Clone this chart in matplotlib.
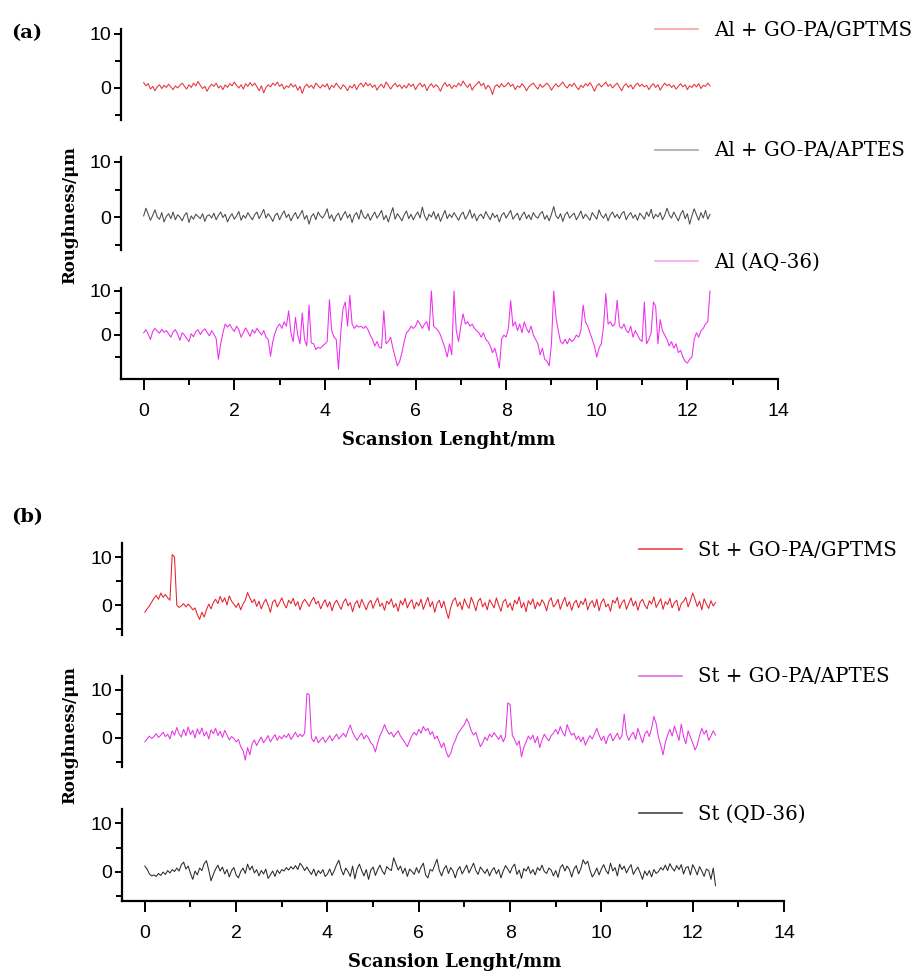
import matplotlib
matplotlib.use('Agg')
import matplotlib.pyplot as plt
import numpy as np
from matplotlib.lines import Line2D

# ---- data: roughness profiles (um), 0.05 mm step, 0 .. 12.5 mm ----
al_gptms = [1.0, 0.4, 0.8, -0.2, 0.3, -0.5, 0.2, 0.6, -0.1, 0.5,
            0.1, 0.7, 0.2, -0.3, 0.4, 0.0, 0.5, 0.9, 0.3, -0.2,
            0.6, 0.1, 0.9, 0.4, 1.2, 0.5, -0.1, 0.3, -0.6, 0.2,
            0.7, 0.3, 0.9, 0.0, 0.4, -0.3, 0.6, 0.1, 0.8, 0.4,
            1.1, 0.5, 0.0, 0.6, -0.2, 0.8, 0.3, 1.0, 0.4, 0.9,
            0.2, -0.5, 0.4, -0.9, 0.1, 0.6, 0.2, 0.9, 0.5, 1.1,
            0.3, 0.7, -0.2, 0.4, 0.1, 0.8, 0.2, 0.6, -0.4, 0.3,
            -1.0, 0.2, 0.7, 0.1, 0.5, -0.1, 0.9, 0.4, 0.0, 0.6,
            0.2, 0.8, -0.3, 0.5, 0.1, 0.9, 0.3, -0.2, 0.6, 0.2,
            -0.5, 0.4, 0.0, 0.7, -0.3, 0.5, 0.9, 0.2, 1.0, 0.4,
            0.8, 0.1, 0.6, -0.4, 0.3, 0.7, 0.0, 1.1, 0.5, -0.2,
            0.4, 0.9, 0.2, 0.6, -0.1, 0.5, 0.0, 0.8, 0.3, 0.7,
            -0.3, 0.5, 0.9, 0.2, 0.7, -0.5, 0.3, 0.8, 0.1, 0.6,
            0.2, -0.6, 0.4, 1.0, 0.3, 0.7, -0.1, 0.5, 0.2, 0.9,
            0.4, 1.3, 0.6, 0.1, 0.8, -0.4, 0.3, 0.7, 1.2, 0.4,
            0.9, -0.2, 0.5, 0.0, -1.2, 0.3, 0.6, 0.1, 0.8, 0.2,
            0.5, 1.0, 0.3, 0.7, -0.3, 0.4, 0.1, 0.8, 0.3, -0.5,
            0.2, 0.6, 0.9, 0.3, -0.2, 0.7, 0.1, 0.5, 0.9, 0.4,
            -0.4, 0.3, 0.8, 0.2, 0.6, 1.1, 0.4, 0.0, 0.7, 0.3,
            0.9, 0.2, -0.3, 0.5, 0.1, 0.8, 0.4, 1.0, 0.3, -0.6,
            0.4, 0.8, 0.2, 0.6, 1.1, 0.3, 0.7, 0.0, 0.5, 0.9,
            0.2, -0.5, 0.4, 0.8, 0.1, 0.6, -0.2, 0.5, 0.9, 0.3,
            0.7, 0.2, 0.5, -0.3, 0.4, 0.8, 0.1, 0.6, -0.4, 0.3,
            0.9, 0.4, 0.7, 0.1, 0.5, -0.2, 0.3, 0.8, 0.2, 0.6,
            -0.3, 0.4, 0.1, 0.7, 0.2, 0.8, -0.1, 0.5, 0.3, 0.9,
            0.4]

al_aptes = [0.2, 1.6, 0.5, -0.6, 0.3, 1.3, 0.0, -0.4, 0.8, -0.9,
            0.1, 0.6, -0.3, 0.9, -0.5, 0.4, 0.0, -0.7, 0.3, 0.8,
            -1.0, 0.2, -0.4, 0.5, 0.1, -0.3, 0.6, -0.8, 0.2, 0.4,
            -0.2, 0.7, -0.5, 0.3, 0.9, -0.1, 0.5, -0.9, 0.0, 0.6,
            -0.4, 0.2, 1.0, -0.6, 0.3, -0.2, 0.8, 0.1, -0.5, 0.4,
            0.9, -0.3, 0.5, 1.4, -0.2, 0.6, 0.0, -0.8, 0.3, 0.7,
            -0.5, 0.4, 1.1, -0.1, 0.5, -0.7, 0.2, 0.8, -0.3, 0.4,
            1.2, -0.4, 0.3, -1.3, 0.1, 0.6, -0.5, 0.9, 0.2, -0.2,
            0.5, 1.5, -0.3, 0.4, -0.8, 0.2, 0.7, -0.6, 0.3, 1.0,
            -0.2, 0.5, -1.0, 0.3, 0.8, -0.4, 1.3, 0.1, -0.3, 0.6,
            -0.6, 0.2, 0.9, -0.2, 0.4, 1.2, -0.5, 0.3, -0.9, 0.5,
            1.7, -0.4, 0.6, 0.0, -0.7, 0.4, 1.1, -0.3, 0.5, -0.5,
            0.3, 0.9, -0.2, 1.8, 0.2, -0.6, 0.5, 0.0, 1.0, -0.4,
            0.6, -0.8, 0.2, 1.2, -0.3, 0.5, -0.1, 0.8, 0.1, -0.6,
            0.4, 0.9, -0.4, 0.3, 1.3, -0.2, 0.6, -0.7, 0.2, 0.5,
            -0.3, 1.0, 0.2, -0.5, 0.7, -0.1, 0.4, -0.9, 0.3, 0.8,
            -0.2, 0.5, 1.2, -0.4, 0.2, 0.7, -0.6, 0.3, 0.9, -0.3,
            0.4, -0.5, 0.8, 0.1, -0.2, 0.6, 1.0, -0.4, 0.3, -0.7,
            0.5, 1.9, 0.2, -0.3, 0.6, -0.8, 0.4, 0.9, -0.2, 0.3,
            0.7, -0.5, 0.2, 1.1, -0.3, 0.5, 0.0, -0.6, 0.8, 0.2,
            -0.4, 1.3, 0.3, -0.2, 0.6, -0.7, 0.4, 0.9, -0.1, 0.5,
            -0.3, 0.6, 1.0, -0.5, 0.3, 0.8, -0.2, 0.4, -0.6, 0.7,
            0.2, -0.4, 0.9, 0.1, 1.4, -0.3, 0.5, 0.0, 0.8, -0.5,
            0.3, 1.6, 0.4, -0.2, 0.9, 0.1, -0.7, 0.5, 1.2, -0.3,
            0.6, -1.3, 0.2, 1.5, 0.4, -0.6, 0.8, -0.2, 1.2, -0.4,
            0.5]

al_bare = [0.5, 1.2, 0.2, -1.0, 0.8, 1.5, 0.9, 0.4, 1.3, 0.6,
           1.0, 0.3, -0.5, 0.7, 1.2, 0.2, -1.2, 0.5, 0.0, -0.8,
           -1.5, 0.3, -0.4, 0.8, 1.2, 0.1, 0.9, 1.4, 0.6, -0.2,
           1.0, 0.2, -0.8, -5.5, -2.0, 0.5, 2.5, 1.8, 2.4, 1.5,
           0.8, 2.0, 1.2, -0.5, 0.5, 1.6, 0.7, -0.3, 1.2, 0.4,
           1.5, 0.8, 0.0, 1.0, -0.5, -1.0, -4.8, -1.5, 0.5, 1.8,
           2.5, 1.5, 3.0, 2.0, 5.5, 0.5, -1.5, 4.0, 0.0, -2.0,
           5.0, -1.0, -2.5, 6.8, -1.8, -2.0, -3.3, -2.8, -3.0, -2.5,
           -2.0, -1.5, 8.0, 1.0, -0.5, -1.0, -7.8, 0.5, 6.0, 7.5,
           2.0, 9.0, 2.5, 1.5, 2.2, 1.8, 2.0, 1.5, 2.0, 1.2,
           0.0, -1.0, -2.5, -1.5, -2.8, -3.0, 5.5, -2.0, -1.5, -0.5,
           -3.0, -5.0, -7.0, -6.0, -4.0, -1.5, 0.5, 1.0, 2.0, 1.5,
           2.0, 3.3, 2.5, 1.5, 2.5, 3.0, 1.0, 10.0, 2.0, 1.5,
           1.0, 0.0, -1.5, -3.0, -5.0, -2.0, -4.5, 10.0, 1.0, -1.5,
           2.0, 4.8, 2.5, 3.0, 2.0, 2.5, 1.5, 1.0, 0.5, -0.5,
           0.5, -1.0, -1.5, -2.5, -4.0, -3.0, -5.0, -7.5, -1.0, 0.0,
           -0.5, 1.5, 7.8, 2.0, 3.0, 1.0, 2.5, 0.5, 3.0, 1.5,
           0.5, 2.0, 0.0, -1.0, -2.0, -4.5, -3.0, -5.5, -6.0, -7.0,
           -2.0, 10.0, 4.0, 1.0, -1.5, -2.0, -1.0, -2.0, -0.8, -1.5,
           -1.0, 0.0, -0.5, 1.0, 6.8, 3.0, 2.0, 0.5, -1.0, -2.5,
           -5.0, -3.0, -2.0, 2.0, 9.4, 2.5, 3.0, 2.0, 2.5, 7.9,
           2.0, 1.5, 2.5, 1.0, 0.5, 2.0, -0.5, 1.0, 0.0, -1.0,
           -1.5, 7.5, -2.0, -1.0, 0.5, 7.5, 6.5, -2.0, 3.5, 1.0,
           0.0, -1.0, -2.5, -1.5, -3.0, -2.0, -4.0, -3.5, -5.0, -6.0,
           -6.4, -5.5, -5.0, -1.0, 0.5, -0.5, 1.0, 1.5, 2.5, 3.0,
           10.0]

st_gptms = [-1.5, -0.8, -0.2, 0.6, 1.4, 2.0, 1.2, 2.5, 1.6, 2.2,
            1.5, 1.0, 10.5, 10.0, 0.0, -0.5, -0.2, 0.3, -0.4, 0.2,
            -0.3, -1.0, -0.6, -2.0, -3.0, -1.5, -2.5, -1.0, 0.2, -0.8,
            0.5, 1.2, 0.3, 1.8, 0.6, 1.5, 0.0, 1.9, 0.8, 0.2,
            -0.5, 0.4, -1.0, 0.2, 1.0, 2.6, 1.5, 0.5, 1.2, -0.3,
            0.8, -0.8, 0.4, 1.2, 0.0, -1.5, 0.6, 1.1, -0.4, 0.5,
            1.5, 0.2, -0.6, 1.0, 0.3, 1.4, -0.2, 0.7, -1.0, 0.4,
            1.2, 0.5, -0.3, 0.9, 1.6, 0.2, 0.8, -0.8, 0.3, 1.1,
            -0.4, 0.7, -1.2, 0.3, 1.0, 0.0, -0.9, 0.6, 1.3, -0.2,
            0.5, -1.4, 0.2, 0.9, -0.6, 1.2, 0.1, -1.0, 0.4, 1.0,
            -0.7, 0.6, 1.5, -0.3, 0.4, -1.1, 0.8, 0.2, 1.3, -0.5,
            0.3, -1.3, 0.9, 0.0, 1.4, -0.6, 0.5, 1.1, -0.8, 0.6,
            -0.2, 1.2, -0.9, 0.4, 1.6, -0.4, 0.7, -1.5, 0.3, 1.0,
            -0.6, 0.8, -1.2, -2.8, -0.5, 0.9, 1.5, -0.3, 0.6, -1.0,
            1.3, 0.1, -0.7, 1.6, 0.4, -1.2, 0.8, 1.4, -0.4, 0.5,
            -1.0, 1.1, 0.3, -0.6, 1.5, 0.0, -1.3, 0.7, 1.2, -0.5,
            0.4, -1.1, 1.0, 0.2, 1.7, -0.6, 0.5, -1.4, 0.9, 0.1,
            1.3, -0.8, 0.6, -0.2, 1.1, 0.3, -1.2, 0.8, 1.5, -0.4,
            0.2, 1.2, -0.9, 0.5, 1.6, -0.3, 0.7, -1.1, 0.4, 1.0,
            -0.6, 0.8, 0.1, 1.4, -1.0, 0.3, 0.9, -0.5, 1.2, -1.2,
            0.6, 1.3, -0.4, 0.2, -1.3, 1.0, 0.4, 1.6, -0.7, 0.5,
            1.1, -0.9, 0.3, 1.5, -0.2, 0.8, -1.1, 0.6, 1.2, 0.0,
            -0.8, 0.9, 0.2, 1.7, -0.5, 0.4, 1.3, -0.9, 0.7, 0.1,
            1.4, -0.6, 0.5, 1.0, -1.2, 0.3, 0.8, 1.6, -0.4, 0.9,
            2.5, 1.2, -0.3, 0.8, -1.0, 1.3, 0.2, -0.7, 0.9, -0.2,
            0.5]

st_aptes = [-0.8, -0.2, 0.4, -0.1, 0.3, 0.9, 0.1, 0.6, 1.2, 0.3,
            0.8, -0.2, 1.5, 0.6, 2.2, 0.9, 0.2, 1.8, 0.5, 2.3,
            0.7, 1.6, 0.0, 1.9, 0.8, 2.1, 0.4, 1.3, -0.2, 1.7,
            0.9, 2.0, 0.5, 1.4, 0.1, 1.6, 0.6, -0.4, 0.3, -0.1,
            -0.8, -0.3, -1.8, -2.6, -4.6, -2.0, -3.5, -1.2, -0.4, -1.6,
            -0.6, 0.2, -1.0, -0.3, 0.5, -0.8, 0.0, 0.7, -0.5, 0.4,
            -0.2, 0.6, 0.1, 0.9, -0.3, 0.4, 1.2, 0.2, 0.8, 0.3,
            1.0, 9.3, 9.0, 0.0, -0.8, 0.3, -1.0, -0.4, 0.2, -0.9,
            -0.3, 0.5, -0.6, 0.1, 0.8, -0.2, 0.4, 1.0, 0.2, 1.5,
            2.7, 1.2, 0.3, -0.5, 0.4, 1.0, -0.2, 0.6, 0.0, -1.0,
            -1.5, -2.9, -1.0, 0.5, 1.5, 2.8, 1.6, 0.8, 1.2, 0.2,
            0.9, 1.5, 0.4, -0.3, -1.0, -1.8, -0.6, 0.5, 1.2, 0.6,
            1.8, 1.0, 2.4, 1.5, 2.0, 0.7, 1.3, -0.2, 0.4, -0.8,
            -2.0, -1.0, -2.8, -4.0, -3.2, -1.5, -0.5, 0.8, 1.5, 2.2,
            2.8, 4.0, 3.0, 1.5, 0.6, 1.2, -0.4, -1.8, -1.0, 0.2,
            -0.5, 0.8, 0.2, 1.1, 0.4, -0.3, 0.6, -0.8, 0.3, 7.3,
            7.0, 0.5, -0.3, -1.5, -0.6, -3.9, -2.0, -0.8, 0.4, -0.3,
            0.6, -1.0, 0.3, -2.0, -0.4, 0.8, 0.0, -0.6, 0.5, 1.0,
            1.8, 0.8, 2.4, 1.2, 0.4, 2.8, 1.5, 0.6, 1.0, -0.3,
            0.4, -0.8, 0.2, -1.5, -0.4, 0.5, -0.2, 0.9, 2.0, 0.6,
            -0.5, 0.4, -1.2, 0.3, 0.9, -0.6, 0.2, 1.0, -0.3, 0.5,
            5.0, 0.8, -0.5, 0.6, 1.2, -0.3, 2.0, 0.5, -1.0, 0.8,
            1.5, 0.3, 2.0, 4.5, 3.0, 0.2, -1.5, -3.5, -1.0, 0.6,
            1.8, 0.4, 2.5, 1.0, -0.5, 2.9, 0.3, -1.2, 1.5, 0.2,
            -1.0, -2.5, -1.5, 0.5, 2.0, 0.8, 1.6, -0.5, 0.4, 1.5,
            0.6]

st_bare = [1.2, 0.6, -0.4, -0.8, -0.6, -0.9, -0.3, -0.7, 0.0, -0.5,
           0.3, -0.2, 0.5, 0.1, 0.8, 0.2, 1.5, 2.0, 0.6, 1.2,
           -0.3, -1.5, 0.2, -0.6, 0.8, 0.3, 1.7, 2.3, 0.4, -1.8,
           -0.5, 0.6, 1.4, 0.2, 1.0, -0.4, 0.5, -1.0, 0.3, 0.9,
           -0.6, -1.2, 0.1, 0.8, -0.3, 1.6, 0.4, 1.2, -0.2, 0.5,
           -0.8, 0.3, -0.4, 0.6, -1.3, -0.6, 0.2, -0.9, 0.4, -0.3,
           0.5, 0.2, 0.9, 0.4, 1.1, 0.6, 1.3, 0.5, 1.8, 1.2,
           0.3, 1.0, 0.2, -0.5, 0.6, -0.8, 0.3, -0.3, 0.5, -0.9,
           -0.4, 0.6, -0.7, 0.3, 1.5, 2.4, 0.5, -0.6, 0.8, 0.1,
           -0.9, 1.2, -1.4, 0.6, 1.6, 0.3, -0.8, 0.5, -1.5, 0.4,
           1.0, -0.7, 0.5, 1.4, 0.2, -0.5, 1.1, 0.6, 0.3, 2.9,
           1.6, 0.4, 1.2, -0.3, 0.8, -0.9, 0.6, 0.1, -0.5, 0.9,
           -0.2, 1.0, 1.8, -0.6, -1.2, 0.5, 0.2, 1.4, 2.6, 0.3,
           -0.8, 0.6, 1.3, -0.3, 0.9, 0.2, -1.2, 0.4, 1.1, -0.4,
           0.5, 1.4, -0.2, 0.8, 1.8, 0.3, -0.5, 1.0, 0.4, -0.3,
           0.6, -0.8, 0.3, 0.9, -0.4, 0.5, -1.2, 0.2, 1.3, 0.6,
           -0.2, 1.0, 1.6, -0.5, 0.4, -1.3, 0.7, 0.2, 1.1, -0.3,
           0.5, -0.6, 0.9, 0.3, 1.4, 0.1, -0.3, 0.8, 0.4, -0.8,
           0.3, -1.1, 0.9, 1.5, 0.2, 1.2, 0.5, -1.0, 0.6, 1.3,
           -0.4, 0.7, 2.5, 1.6, 2.2, 0.4, -1.0, -0.3, 0.8, -0.6,
           0.6, 1.5, 0.3, -0.4, 1.8, 0.2, 0.9, -0.8, 1.6, 0.5,
           1.2, -0.2, 0.8, 1.5, -0.5, 0.4, 1.0, -0.2, -1.5, 0.2,
           -0.7, 0.3, -1.0, 0.5, -0.3, 0.1, 0.9, 0.4, 1.4, 0.3,
           1.7, 0.8, 0.2, 1.3, 0.5, 1.5, -0.4, 0.9, 1.1, -0.6,
           1.5, 0.6, -0.6, 1.1, 0.2, -0.9, 0.6, 0.3, -1.5, 0.8,
           -2.8]

scan_end = 12.5  # mm, every profile runs 0 .. 12.5

labels_a = ['Al + GO-PA/GPTMS', 'Al + GO-PA/APTES', 'Al (AQ-36)']
labels_b = ['St + GO-PA/GPTMS', 'St + GO-PA/APTES', 'St (QD-36)']

W, H = 921, 974
fig = plt.figure(figsize=(W / 100, H / 100), dpi=100)

serif = ['DejaVu Serif']
sans = ['Liberation Sans', 'DejaVu Sans']


def add_ax(left, right, top, bottom):
    # rectangle given in pixels of the reference picture
    return fig.add_axes([left / W, 1 - bottom / H, (right - left) / W, (bottom - top) / H])


def style(ax, ylim, bottom_axis):
    ax.set_xlim(-0.5, 14)
    ax.set_ylim(*ylim)
    for s in ['top', 'right']:
        ax.spines[s].set_visible(False)
    ax.spines['left'].set_linewidth(1.6)
    ax.set_yticks([0, 10])
    ax.set_yticks([-5, 5], minor=True)
    ax.tick_params(axis='y', which='major', direction='out', length=5, width=1.4, pad=2)
    ax.tick_params(axis='y', which='minor', direction='out', length=4, width=1.4)
    for t in ax.get_yticklabels():
        t.set_family(sans)
        t.set_fontsize(14)
    if bottom_axis:
        ax.spines['bottom'].set_linewidth(1.6)
        ax.set_xticks(np.arange(0, 15, 2))
        ax.set_xticks(np.arange(1, 14, 2), minor=True)
        ax.tick_params(axis='x', which='major', direction='out', length=8, width=1.4, pad=9)
        ax.tick_params(axis='x', which='minor', direction='out', length=4.5, width=1.4)
        for t in ax.get_xticklabels():
            t.set_family(sans)
            t.set_fontsize(14)
    else:
        ax.spines['bottom'].set_visible(False)
        ax.set_xticks([])
    ax.patch.set_alpha(0)


def legend_at(ax, label, color, x_px, y_px):
    h = Line2D([], [], color=color, lw=1.2)
    ax.legend([h], [label], loc='center left', bbox_to_anchor=(x_px / W, 1 - y_px / H),
              bbox_transform=fig.transFigure, frameon=False, borderpad=0, borderaxespad=0,
              handlelength=2.2, handletextpad=0.8,
              prop={'family': serif, 'size': 14.2})


# ---------- panel (a) ----------
panel_a = [
    (al_gptms, '#e8323c', '#f5a3a3', (-6, 11), (28.6, 120.4), 30),
    (al_aptes, '#4a4a4a', '#a8a8a8', (-6, 11), (156.5, 250), 151),
    (al_bare, '#ee2cee', '#f7a6ef', (-10, 10.7), (287.9, 379), 262),
]
for i, (y, col, lcol, ylim, (top, bot), ly) in enumerate(panel_a):
    ax = add_ax(121, 778, top, bot)
    x = np.linspace(0, scan_end, len(y))
    ax.plot(x, y, color=col, lw=0.75)
    style(ax, ylim, i == 2)
    legend_at(ax, labels_a[i], lcol, 655, ly)

# ---------- panel (b) ----------
panel_b = [
    (st_gptms, '#e4222e', '#e8454d', (-6.2, 13), (542.6, 634.8), 550),
    (st_aptes, '#e633e6', '#e866e8', (-6, 13), (675.6, 766.8), 677),
    (st_bare, '#2a2a2a', '#444444', (-5.9, 12.9), (808.8, 900.9), 814),
]
for i, (y, col, lcol, ylim, (top, bot), ly) in enumerate(panel_b):
    ax = add_ax(122, 784, top, bot)
    x = np.linspace(0, scan_end, len(y))
    ax.plot(x, y, color=col, lw=0.75)
    style(ax, ylim, i == 2)
    legend_at(ax, labels_b[i], lcol, 639, ly)

# labels
txt = dict(family=serif, fontweight='bold', fontsize=13)
fig.text(11 / W, 1 - 33 / H, '(a)', ha='left', va='center', **dict(txt, fontsize=14))
fig.text(11 / W, 1 - 517 / H, '(b)', ha='left', va='center', **dict(txt, fontsize=14))
fig.text(449 / W, 1 - 440 / H, 'Scansion Lenght/mm', ha='center', va='center', **txt)
fig.text(455 / W, 1 - 962 / H, 'Scansion Lenght/mm', ha='center', va='center', **txt)
fig.text(70 / W, 1 - 215 / H, 'Roughness/μm', ha='center', va='center', rotation=90,
         **dict(txt, fontsize=12))
fig.text(70 / W, 1 - 735 / H, 'Roughness/μm', ha='center', va='center', rotation=90,
         **dict(txt, fontsize=12))

fig.savefig('out.png', dpi=100, facecolor='white')
